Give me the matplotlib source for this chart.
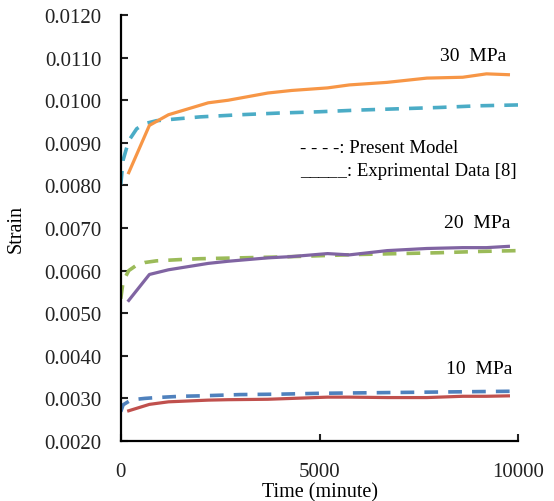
import matplotlib
matplotlib.use("Agg")
import matplotlib.pyplot as plt

plt.rcParams['font.family'] = ['Liberation Serif', 'DejaVu Serif']

# Experimental data [8]
exp_time = [200, 720, 1200, 2200, 2700, 3700, 4300, 5200, 5750, 6700, 7700, 8600, 9200, 9750]
exp_30 = [0.00830, 0.00941, 0.00966, 0.00994, 0.01000, 0.01017, 0.01023, 0.01029, 0.01036, 0.01042, 0.01052, 0.01054, 0.01062, 0.01060]
exp_20 = [0.00530, 0.00591, 0.00602, 0.00617, 0.00622, 0.00630, 0.00633, 0.00640, 0.00637, 0.00647, 0.00652, 0.00654, 0.00654, 0.00657]
exp_10 = [0.00271, 0.00286, 0.00292, 0.00296, 0.00297, 0.00298, 0.00300, 0.00303, 0.00303, 0.00302, 0.00302, 0.00305, 0.00305, 0.00306]

# Present model
model_time = [0, 60, 200, 400, 600, 900, 1500, 2000, 3000, 4000, 5000, 6000, 7000, 8000, 9000, 10000]
model_30 = [0.00802, 0.00860, 0.00905, 0.00933, 0.00945, 0.00952, 0.00957, 0.00961, 0.00966, 0.00970, 0.00973, 0.00977, 0.00980, 0.00983, 0.00987, 0.00989]
model_20 = [0.00534, 0.00575, 0.00600, 0.00613, 0.00619, 0.00623, 0.00626, 0.00628, 0.00630, 0.00632, 0.00635, 0.00638, 0.00640, 0.00642, 0.00645, 0.00647]
model_10 = [0.00269, 0.00285, 0.00293, 0.00298, 0.00300, 0.00302, 0.00305, 0.00306, 0.00309, 0.00310, 0.00312, 0.00313, 0.00314, 0.00315, 0.00316, 0.00317]

x_ticks = [0, 5000, 10000]
y_ticks = [0.0020, 0.0030, 0.0040, 0.0050, 0.0060, 0.0070, 0.0080, 0.0090, 0.0100, 0.0110, 0.0120]

fig = plt.figure(figsize=(5.54, 5.02), dpi=100)
ax = fig.add_axes([0.218, 0.1195, 0.7176, 0.8485])

lw = 2.3
dlw = 2.6
dash = (0, (3.8, 2.8))
ax.plot(model_time, model_30, color='#4BACC6', lw=dlw, linestyle=dash)
ax.plot(exp_time, exp_30, color='#F79646', lw=lw)
ax.plot(model_time, model_20, color='#9BBB59', lw=dlw, linestyle=dash)
ax.plot(exp_time, exp_20, color='#8064A2', lw=lw)
ax.plot(model_time, model_10, color='#4F81BD', lw=dlw, linestyle=dash)
ax.plot(exp_time, exp_10, color='#C0504D', lw=lw)

ax.set_xlim(0, 10000)
ax.set_ylim(0.0020, 0.0120)
ax.set_xticks(x_ticks)
ax.set_yticks(y_ticks)
ax.set_yticklabels([f"{v:.4f}" for v in y_ticks])
ax.tick_params(direction='in', length=5, width=1.5, labelsize=15, colors='#222222')
ax.tick_params(axis='y', pad=14)
ax.tick_params(axis='x', pad=15)
for s in ['top', 'right']:
    ax.spines[s].set_visible(False)
for s in ['left', 'bottom']:
    ax.spines[s].set_linewidth(1.6)

ax.set_xlabel('Time (minute)', fontsize=14.5, labelpad=1)
ax.set_ylabel('Strain', fontsize=14.5, labelpad=13)

ax.text(0.97, 0.905, '30  MPa', transform=ax.transAxes, ha='right', va='center', fontsize=14)
ax.text(0.98, 0.513, '20  MPa', transform=ax.transAxes, ha='right', va='center', fontsize=14)
ax.text(0.985, 0.17, '10  MPa', transform=ax.transAxes, ha='right', va='center', fontsize=14)

ax.text(0.452, 0.689, '- - - -: Present Model', transform=ax.transAxes, ha='left', va='center', fontsize=13.5)
ax.text(0.452, 0.635, '_____: Exprimental Data [8]', transform=ax.transAxes, ha='left', va='center', fontsize=13.5)

fig.savefig('out.png', dpi=100)
